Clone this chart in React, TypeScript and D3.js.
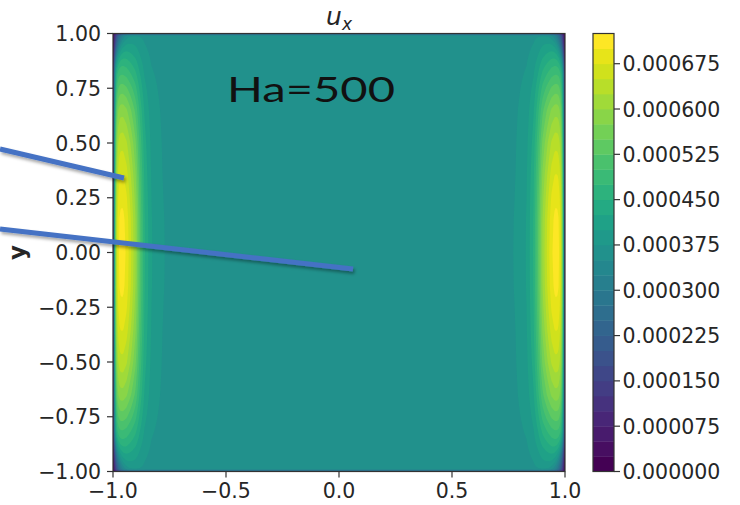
import React, { useMemo } from "react";
import * as d3 from "d3";

// ---- data ----
const xTicks = [-1, -0.5, 0, 0.5, 1];
const yTicks = [-1, -0.75, -0.5, -0.25, 0, 0.25, 0.5, 0.75, 1];
const levelStep = 0.000025;
const levelCount = 30; // 0 .. 0.000725
const cbTicks = [0, 0.000075, 0.00015, 0.000225, 0.0003, 0.000375, 0.00045, 0.000525, 0.0006, 0.000675];
// side-layer jet profile (excess over core) vs distance from side wall, mid height
const wallDist = [0, 0.004, 0.008, 0.012, 0.02, 0.03, 0.045, 0.06, 0.08, 0.1, 0.12, 0.14, 0.17, 0.22, 0.3, 0.5, 1.0];
const jetExcess = [0.0001, 0.00016, 0.00025, 0.00031, 0.00034, 0.000352, 0.00035, 0.000333, 0.00029, 0.00024, 0.00016, 0.00009, 0.00004, 0.000014, 0.000005, 0.000001, 0];
// jet strength vs |y|
const yAbs = [0, 0.15, 0.25, 0.35, 0.5, 0.65, 0.75, 0.85, 0.92, 0.97, 1.0];
const jetScale = [1, 0.985, 0.95, 0.9, 0.8, 0.65, 0.5, 0.33, 0.2, 0.12, 0.08];
const coreValue = 0.000362;
const sideLayer = 0.006;
const cornerLayer = 0.02;
const hartmannLayer = 0.003;

const levels = d3.range(levelCount).map((i) => +(i * levelStep).toFixed(7));

const W = 740, H = 505;
const plot = { left: 113, right: 565, top: 33.5, bottom: 471.5 };
const cb = { left: 593, right: 614 };
const FONT = "DejaVu Sans, sans-serif";

function fmtTick(v: number, digits: number) {
  return v.toFixed(digits).replace("-", "\u2212");
}

export default function App() {
  const x = d3.scaleLinear().domain([-1, 1]).range([plot.left, plot.right]);
  const y = d3.scaleLinear().domain([-1, 1]).range([plot.bottom, plot.top]);
  const cbY = d3.scaleLinear().domain([0, levels[levels.length - 1]]).range([plot.bottom, plot.top]);
  const color = (k: number) => d3.interpolateViridis(k / (levelCount - 2));

  const excess = d3.scaleLinear().domain(wallDist).range(jetExcess).clamp(true);
  const gScale = d3.scaleLinear().domain(yAbs).range(jetScale).clamp(true);

  const paths = useMemo(() => {
    const nx = Math.round(plot.right - plot.left);
    const ny = Math.round(plot.bottom - plot.top);
    const sx = (plot.right - plot.left) / nx;
    const sy = (plot.bottom - plot.top) / ny;
    const vals = new Float64Array(nx * ny);
    for (let j = 0; j < ny; j++) {
      const yy = y.invert(plot.top + (j + 0.5) * sy);
      const ay = Math.abs(yy);
      const g = gScale(ay);
      const t = Math.max(0, (ay - 0.8) / 0.2);
      const delta = sideLayer + cornerLayer * t * t;
      const hf = 1 - Math.exp(-(1 - ay) / hartmannLayer);
      for (let i = 0; i < nx; i++) {
        const xx = x.invert(plot.left + (i + 0.5) * sx);
        const d = 1 - Math.abs(xx);
        const wf = 1 - Math.exp(-d / delta);
        vals[j * nx + i] = wf * hf * (coreValue + excess(d) * g);
      }
    }
    const thr = levels.slice(1, levels.length - 1);
    const cs = d3.contours().size([nx, ny]).thresholds(thr)(Array.from(vals));
    const gp = d3.geoPath();
    return cs.map((c, idx) => ({ d: gp(c as any) || "", k: idx + 1 }));
  }, []);

  const sx = (plot.right - plot.left) / Math.round(plot.right - plot.left);
  const sy = (plot.bottom - plot.top) / Math.round(plot.bottom - plot.top);

  return (
    <svg width={W} height={H} style={{ position: "absolute", left: 0, top: 0, background: "#fff" }}>
      <defs>
        <clipPath id="pc">
          <rect x={plot.left} y={plot.top} width={plot.right - plot.left} height={plot.bottom - plot.top} />
        </clipPath>
        <filter id="sh" x="-10%" y="-50%" width="120%" height="200%">
          <feDropShadow dx="1.5" dy="2.5" stdDeviation="1.8" floodColor="#000" floodOpacity="0.35" />
        </filter>
      </defs>
      <rect width={W} height={H} fill="#fff" />
      {/* contour field */}
      <g clipPath="url(#pc)">
        <rect x={plot.left} y={plot.top} width={plot.right - plot.left} height={plot.bottom - plot.top} fill={color(0)} />
        <g transform={`translate(${plot.left},${plot.top}) scale(${sx},${sy})`}>
          {paths.map((p) => (
            <path key={p.k} d={p.d} fill={color(p.k)} />
          ))}
        </g>
      </g>
      <rect x={plot.left} y={plot.top} width={plot.right - plot.left} height={plot.bottom - plot.top} fill="none" stroke="#333" strokeWidth={1.2} />
      {/* x axis */}
      {xTicks.map((t) => (
        <g key={"x" + t}>
          <line x1={x(t)} x2={x(t)} y1={plot.bottom} y2={plot.bottom + 6} stroke="#333" strokeWidth={1.2} />
          <text x={x(t)} y={plot.bottom + 26} textAnchor="middle" fontFamily={FONT} fontSize={20.5} fill="#262626">
            {fmtTick(t, 1)}
          </text>
        </g>
      ))}
      {/* y axis */}
      {yTicks.map((t) => (
        <g key={"y" + t}>
          <line x1={plot.left - 6} x2={plot.left} y1={y(t)} y2={y(t)} stroke="#333" strokeWidth={1.2} />
          <text x={plot.left - 12} y={y(t) + 7.5} textAnchor="end" fontFamily={FONT} fontSize={20.5} fill="#262626">
            {fmtTick(t, 2)}
          </text>
        </g>
      ))}
      <text transform={`translate(25,${(plot.top + plot.bottom) / 2}) rotate(-90)`} textAnchor="middle" fontFamily={FONT} fontSize={23} fontWeight="bold" fill="#262626">
        y
      </text>
      {/* title */}
      <text x={(plot.left + plot.right) / 2} y={25} textAnchor="middle" fontFamily={FONT} fontSize={25} fontStyle="italic" fill="#262626">
        u<tspan fontSize={17} dy={5}>x</tspan>
      </text>
      {/* colorbar */}
      {levels.slice(0, levels.length - 1).map((lv, k) => (
        <rect key={"cb" + k} x={cb.left} width={cb.right - cb.left} y={cbY(levels[k + 1])} height={cbY(lv) - cbY(levels[k + 1]) + 0.4} fill={color(k)} />
      ))}
      <rect x={cb.left} y={plot.top} width={cb.right - cb.left} height={plot.bottom - plot.top} fill="none" stroke="#333" strokeWidth={1.2} />
      {cbTicks.map((t) => (
        <g key={"c" + t}>
          <line x1={cb.right} x2={cb.right + 6} y1={cbY(t)} y2={cbY(t)} stroke="#333" strokeWidth={1.2} />
          <text x={cb.right + 8.5} y={cbY(t) + 7.5} fontFamily={FONT} fontSize={20.5} fill="#262626">
            {t.toFixed(6)}
          </text>
        </g>
      ))}
      {/* annotation */}
      <text x={227} y={102} fontFamily="Lato, sans-serif" fontSize={35} fill="#111" textLength={168} lengthAdjust="spacingAndGlyphs">
        Ha=500
      </text>
      <g filter="url(#sh)">
        <line x1={0} y1={149} x2={124} y2={178} stroke="#4472C4" strokeWidth={5} />
        <line x1={0} y1={229} x2={353} y2={269} stroke="#4472C4" strokeWidth={5} />
      </g>
    </svg>
  );
}
